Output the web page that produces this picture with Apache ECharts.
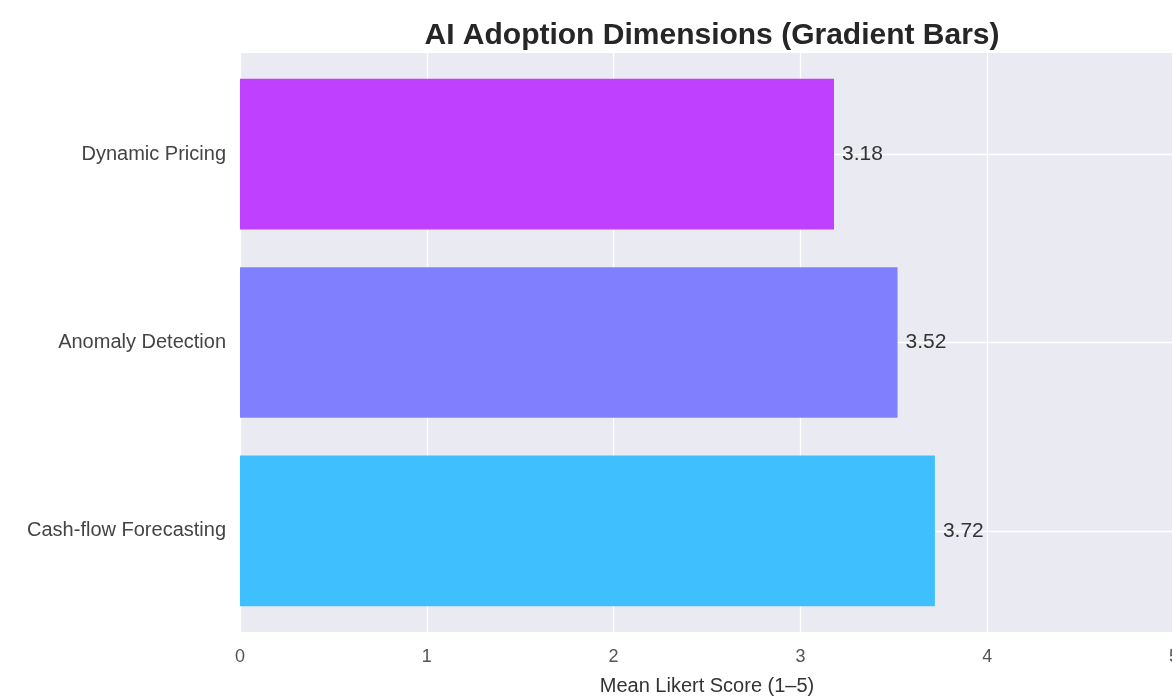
<!DOCTYPE html>
<html>
<head>
<meta charset="utf-8">
<style>
  html, body { margin: 0; padding: 0; background: #fff; }
  #chart { width: 1172px; height: 697px; }
</style>
<script src="https://cdn.jsdelivr.net/npm/echarts@6/dist/echarts.min.js"></script>
</head>
<body>
<div id="chart"></div>
<script>
// bottom to top, as the category axis lays them out
const categories = ['Cash-flow Forecasting', 'Anomaly Detection', 'Dynamic Pricing']
const scores = [3.72, 3.52, 3.18]
const barColors = ['#40BFFF', '#8080FF', '#BF40FF']
const xTicks = [0, 1, 2, 3, 4, 5]

const font = 'Liberation Sans, Arial, sans-serif'
const chart = echarts.init(document.getElementById('chart'))

const option = {
  backgroundColor: '#fff',
  animation: false,
  title: {
    text: 'AI Adoption Dimensions (Gradient Bars)',
    left: 707,
    textAlign: 'center',
    top: 16,
    textStyle: { fontFamily: font, fontSize: 30, fontWeight: 'bold', color: '#262626' }
  },
  grid: [
    // background panel with the margins around the bars
    { left: 240, width: 934, top: 53, bottom: 65, show: true, backgroundColor: '#EAEAF2', borderWidth: 0, outerBoundsMode: 'none' },
    // bars
    { left: 240, width: 934, top: 60, bottom: 72, outerBoundsMode: 'none' }
  ],
  xAxis: [
    {
      type: 'value',
      gridIndex: 0,
      min: xTicks[0],
      max: xTicks[xTicks.length - 1],
      interval: 1,
      axisLine: { show: false },
      axisTick: { show: false },
      axisLabel: { margin: 16, fontSize: 18, color: '#555', fontFamily: font },
      splitLine: { lineStyle: { color: '#fff', width: 1.3 } },
      name: 'Mean Likert Score (1–5)',
      nameLocation: 'middle',
      nameGap: 44,
      nameTextStyle: { fontSize: 20, color: '#333', fontFamily: font }
    },
    {
      type: 'value',
      gridIndex: 1,
      min: xTicks[0],
      max: xTicks[xTicks.length - 1],
      show: false
    }
  ],
  yAxis: [
    {
      type: 'value',
      gridIndex: 0,
      show: false,
      splitLine: { show: false }
    },
    {
      type: 'category',
      gridIndex: 1,
      data: categories,
      axisLine: { show: false },
      axisTick: { show: false },
      splitLine: { show: false },
      axisLabel: { margin: 14, fontSize: 20, color: '#444', fontFamily: font }
    }
  ],
  series: [
    {
      // horizontal grid lines at the category centres, kept under the bars
      type: 'line',
      xAxisIndex: 1,
      yAxisIndex: 1,
      data: [],
      z: 1,
      silent: true,
      markLine: {
        z: 1,
        silent: true,
        symbol: 'none',
        label: { show: false },
        lineStyle: { color: '#fff', width: 1.3, type: 'solid' },
        data: categories.map(c => ({ yAxis: c }))
      }
    },
    {
      type: 'bar',
      xAxisIndex: 1,
      yAxisIndex: 1,
      barWidth: '80%',
      z: 3,
      data: scores.map((v, i) => ({ value: v, itemStyle: { color: barColors[i] } })),
      label: {
        show: true,
        position: 'right',
        distance: 8,
        fontSize: 21,
        color: '#333',
        fontFamily: font,
        formatter: p => p.value.toFixed(2)
      }
    }
  ]
}

chart.setOption(option)
window.addEventListener('resize', () => chart.resize())
</script>
</body>
</html>
